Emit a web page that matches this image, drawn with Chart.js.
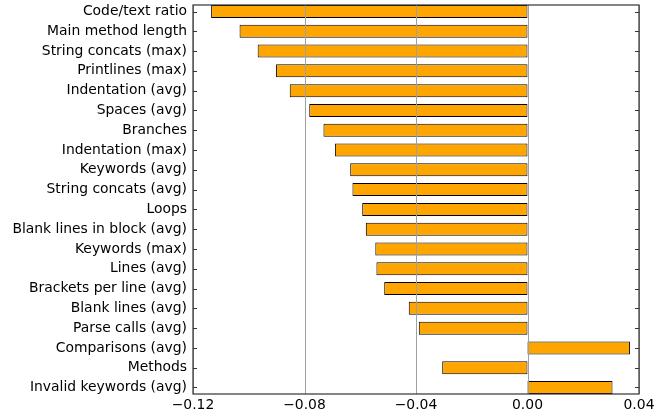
<!DOCTYPE html>
<html>
<head>
<meta charset="utf-8">
<script src="https://cdn.jsdelivr.net/npm/chart.js@4/dist/chart.umd.min.js"></script>
<style>
  html, body { margin: 0; padding: 0; background: #fff; }
  #wrap { width: 671px; height: 416px; }
</style>
</head>
<body>
<div id="wrap"><canvas id="c" width="671" height="416"></canvas></div>
<script>
// Feature names, top to bottom
const features = [
  'Code/text ratio', 'Main method length', 'String concats (max)', 'Printlines (max)',
  'Indentation (avg)', 'Spaces (avg)', 'Branches', 'Indentation (max)',
  'Keywords (avg)', 'String concats (avg)', 'Loops', 'Blank lines in block (avg)',
  'Keywords (max)', 'Lines (avg)', 'Brackets per line (avg)', 'Blank lines (avg)',
  'Parse calls (avg)', 'Comparisons (avg)', 'Methods', 'Invalid keywords (avg)'
];

// Coefficient per feature
const coefficients = [
  -0.1135, -0.1033, -0.0968, -0.0902,
  -0.0853, -0.0783, -0.0732, -0.0691,
  -0.0636, -0.0628, -0.0593, -0.0580,
  -0.0546, -0.0542, -0.0514, -0.0426,
  -0.0390, 0.0368, -0.0306, 0.0305
];

// Horizontal axis ticks and their labels
const xTickValues = [-0.12, -0.08, -0.04, 0.00, 0.04];
const xTickLabels = ['\u22120.12', '\u22120.08', '\u22120.04', '0.00', '0.04'];

const BAR_FRACTION = 0.657;
const FONT = { family: 'DejaVu Sans', size: 13.9 };

// Vertical grid lines over the bars, then a box frame with inward ticks
const framePlugin = {
  id: 'frame',
  afterDatasetsDraw(chart) {
    const { ctx, chartArea: a, scales } = chart;
    ctx.save();
    ctx.strokeStyle = '#a0a0a0';
    ctx.lineWidth = 1;
    ctx.beginPath();
    xTickValues.forEach(v => {
      const x = Math.round(scales.x.getPixelForValue(v)) + 0.5;
      ctx.moveTo(x, a.top); ctx.lineTo(x, a.bottom);
    });
    ctx.stroke();

    ctx.strokeStyle = '#333';
    ctx.lineWidth = 1.2;
    ctx.beginPath();
    features.forEach((_, i) => {
      const y = Math.round(scales.y.getPixelForValue(i)) + 0.5;
      ctx.moveTo(a.left, y); ctx.lineTo(a.left + 4, y);
      ctx.moveTo(a.right, y); ctx.lineTo(a.right - 4, y);
    });
    ctx.stroke();
    ctx.strokeRect(a.left, a.top, a.right - a.left, a.bottom - a.top);
    ctx.restore();
  }
};

new Chart(document.getElementById('c'), {
  type: 'bar',
  data: {
    datasets: [{
      data: coefficients.map((v, i) => ({ x: v, y: i })),
      backgroundColor: '#FFA500',
      borderColor: '#000',
      borderWidth: 1,
      borderSkipped: false,
      categoryPercentage: 1,
      barPercentage: BAR_FRACTION
    }]
  },
  options: {
    indexAxis: 'y',
    responsive: false,
    animation: false,
    layout: { padding: { top: 5, right: 32, left: 0, bottom: 0 } },
    plugins: { legend: { display: false }, tooltip: { enabled: false } },
    scales: {
      x: {
        type: 'linear',
        min: -0.12,
        max: 0.04,
        afterBuildTicks: s => { s.ticks = xTickValues.map(v => ({ value: v })); },
        afterFit: s => { s.height = 22; s.paddingLeft = 0; s.paddingRight = 0; },
        ticks: {
          font: FONT, color: '#000', padding: 3, maxRotation: 0,
          callback: (v, i) => xTickLabels[i]
        },
        grid: { display: false, drawTicks: false },
        border: { display: false }
      },
      y: {
        type: 'linear',
        reverse: true,
        offset: false,
        min: -BAR_FRACTION / 2,
        max: features.length - 1 + BAR_FRACTION / 2,
        afterBuildTicks: s => { s.ticks = features.map((_, i) => ({ value: i })); },
        afterFit: s => { s.width = 193; s.paddingTop = 0; s.paddingBottom = 0; },
        ticks: {
          font: FONT, color: '#000', padding: 6, autoSkip: false,
          callback: v => features[v]
        },
        grid: { display: false, drawTicks: false, offset: false },
        border: { display: false }
      }
    }
  },
  plugins: [framePlugin]
});
</script>
</body>
</html>
